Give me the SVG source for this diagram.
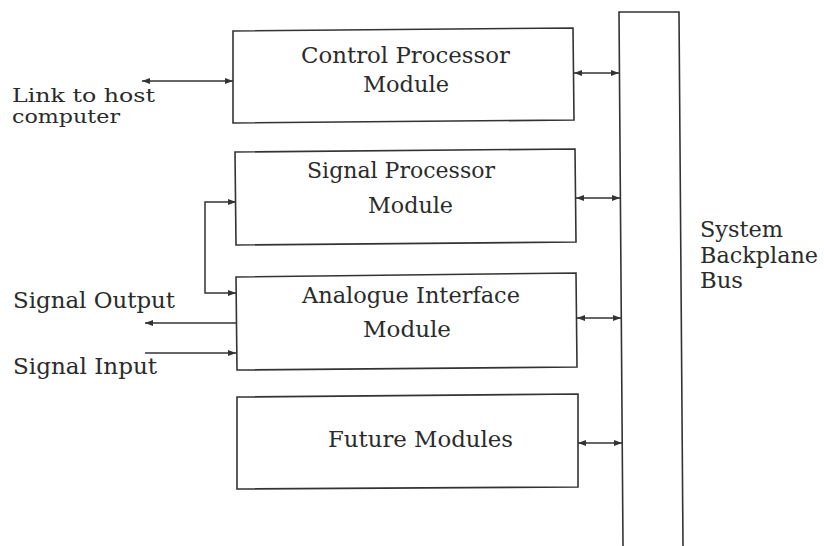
<svg xmlns="http://www.w3.org/2000/svg" width="824" height="546" viewBox="0 0 824 546">
  <style>
    .box { fill: none; stroke: #333; stroke-width: 1.6; stroke-linejoin: miter; }
    .wire { fill: none; stroke: #333; stroke-width: 1.5; }
    .lbl { font-size: 22px; fill: #2b2b2b; }
    .small { font-size: 19px; }
  </style>
  <defs>
    <marker id="head" viewBox="0 0 8 6" refX="8" refY="3" markerWidth="8" markerHeight="6" markerUnits="userSpaceOnUse" orient="auto-start-reverse">
      <path d="M0,0 L8,3 L0,6 z" fill="#333"/>
    </marker>
  </defs>
  <rect width="824" height="546" fill="#fff"/>

  <g font-family="'DejaVu Serif', 'Liberation Serif', serif">
  <g id="control-processor">
    <polygon class="box" points="233,31 573,28 574,120 233,123"/>
    <text class="lbl" x="301" y="63" textLength="209" lengthAdjust="spacingAndGlyphs">Control Processor</text>
    <text class="lbl" x="363" y="92" textLength="86" lengthAdjust="spacingAndGlyphs">Module</text>
  </g>

  <g id="signal-processor">
    <polygon class="box" points="235,152 575,149 576,242 236,245"/>
    <text class="lbl" x="307" y="178" textLength="188" lengthAdjust="spacingAndGlyphs">Signal Processor</text>
    <text class="lbl" x="368" y="213" textLength="85" lengthAdjust="spacingAndGlyphs">Module</text>
  </g>

  <g id="analogue-interface">
    <polygon class="box" points="236,277 576,273 577,367 237,370"/>
    <text class="lbl" x="302" y="303" textLength="218" lengthAdjust="spacingAndGlyphs">Analogue Interface</text>
    <text class="lbl" x="363" y="337" textLength="88" lengthAdjust="spacingAndGlyphs">Module</text>
  </g>

  <g id="future-modules">
    <polygon class="box" points="237,397 578,394 578,487 237,489"/>
    <text class="lbl" x="328" y="447" textLength="185" lengthAdjust="spacingAndGlyphs">Future Modules</text>
  </g>

  <g id="backplane-bus">
    <polyline class="box" points="623,546 619,12 679,12 683,546"/>
    <text class="lbl" x="700" y="237" textLength="83" lengthAdjust="spacingAndGlyphs">System</text>
    <text class="lbl" x="700" y="263" textLength="118" lengthAdjust="spacingAndGlyphs">Backplane</text>
    <text class="lbl" x="700" y="288" textLength="43" lengthAdjust="spacingAndGlyphs">Bus</text>
  </g>

  <g id="host-link">
    <text class="lbl small" x="12" y="102" textLength="143" lengthAdjust="spacingAndGlyphs">Link to host</text>
    <text class="lbl small" x="12" y="123" textLength="108" lengthAdjust="spacingAndGlyphs">computer</text>
  </g>

  <g id="signal-output">
    <text class="lbl" x="13" y="308" textLength="162" lengthAdjust="spacingAndGlyphs">Signal Output</text>
  </g>

  <g id="signal-input">
    <text class="lbl" x="13" y="374" textLength="144" lengthAdjust="spacingAndGlyphs">Signal Input</text>
  </g>
  </g>

  <g id="connectors">
    <line class="wire" x1="142" y1="81" x2="233" y2="81" marker-start="url(#head)" marker-end="url(#head)"/>
    <line class="wire" x1="574" y1="73" x2="619" y2="73" marker-start="url(#head)" marker-end="url(#head)"/>
    <line class="wire" x1="576" y1="198" x2="620" y2="198" marker-start="url(#head)" marker-end="url(#head)"/>
    <line class="wire" x1="577" y1="318" x2="621" y2="318" marker-start="url(#head)" marker-end="url(#head)"/>
    <line class="wire" x1="578" y1="443" x2="622" y2="443" marker-start="url(#head)" marker-end="url(#head)"/>
    <path class="wire" d="M205,248 V202 H236" marker-end="url(#head)"/>
    <path class="wire" d="M205,248 V293 H236" marker-end="url(#head)"/>
    <line class="wire" x1="236" y1="323" x2="145" y2="323" marker-end="url(#head)"/>
    <line class="wire" x1="145" y1="353" x2="236" y2="353" marker-end="url(#head)"/>
  </g>
</svg>
